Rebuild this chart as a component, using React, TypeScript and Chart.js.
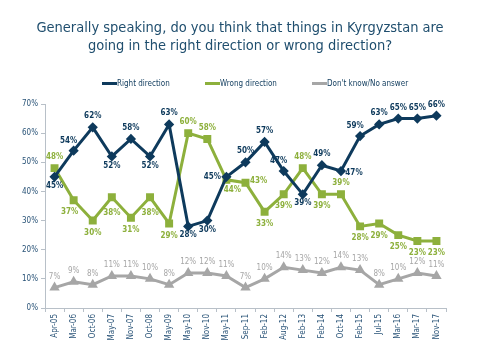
import React, { useEffect, useRef } from "react";
import { Chart, registerables } from "chart.js";

Chart.register(...registerables);

const categories = ["Apr-05","Mar-06","Oct-06","May-07","Nov-07","Oct-08","May-09","May-10","Nov-10","May-11","Sep-11","Feb-12","Aug-12","Feb-13","Feb-14","Oct-14","Feb-15","Jul-15","Mar-16","Mar-17","Nov-17"];
const rightDirection = [45,54,62,52,58,52,63,28,30,45,50,57,47,39,49,47,59,63,65,65,66];
const wrongDirection = [48,37,30,38,31,38,29,60,58,44,43,33,39,48,39,39,28,29,25,23,23];
const dontKnow = [7,9,8,11,11,10,8,12,12,11,7,10,14,13,12,14,13,8,10,12,11];
const yTicks = [0,10,20,30,40,50,60,70];
const titleLines = ["Generally speaking, do you think that things in Kyrgyzstan are", "going in the right direction or wrong direction?"];

// label placement codes: a=above, b=below, bn=near below, bb=far below, l=left, r=right,
// al=above-left, bl=below-left, br=below-right, rb=right-low
const rightPos = ["bn","al","a","bn","a","bn","a","bn","bn","l","a","a","al","bn","a","rb","al","a","a","a","a"];
const wrongPos = ["a","bl","b","bb","b","bb","b","a","a","br","r","b","b","a","b","a","b","b","b","b","b"];
const dkPos = ["a","a","a","a","a","a","a","a","a","a","a","a","a","a","a","a","a","a","a","a","a"];

const OFFSETS: Record<string, [number, number]> = {
  a: [0, -11], b: [0, 12], bn: [0, 9], bb: [0, 16], l: [-14, 0], r: [13, -2],
  al: [-5, -10], bl: [-4, 12], br: [6, 10], rb: [13, 2],
};

const NAVY = "#0e3a5c";
const GREEN = "#8db03c";
const GRAY = "#a6a6a6";
const TITLE = "#1f4e6e";
const FONT = "'DejaVu Sans Condensed', 'DejaVu Sans', sans-serif";

const labelPlugin = {
  id: "pointLabels",
  afterDatasetsDraw(chart: any) {
    const ctx = chart.ctx;
    const positions = [rightPos, wrongPos, dkPos];
    chart.data.datasets.forEach((ds: any, i: number) => {
      const meta = chart.getDatasetMeta(i);
      meta.data.forEach((pt: any, j: number) => {
        const [dx, dy] = OFFSETS[positions[i][j]];
        ctx.save();
        ctx.font = (i === 2 ? "" : "bold ") + "8px " + FONT;
        ctx.fillStyle = ds.borderColor;
        ctx.textAlign = "center";
        ctx.textBaseline = "middle";
        ctx.fillText(ds.data[j] + "%", pt.x + dx, pt.y + dy);
        ctx.restore();
      });
    });
  },
};

const headerPlugin = {
  id: "header",
  afterDraw(chart: any) {
    const ctx = chart.ctx;
    ctx.save();
    ctx.fillStyle = TITLE;
    ctx.font = "14.5px " + FONT;
    ctx.textAlign = "center";
    ctx.textBaseline = "middle";
    ctx.fillText(titleLines[0], 240, 28);
    ctx.fillText(titleLines[1], 240, 46);
    const xs = [102, 205, 312];
    ctx.font = "8px " + FONT;
    ctx.textAlign = "left";
    chart.data.datasets.forEach((ds: any, i: number) => {
      ctx.fillStyle = ds.borderColor;
      ctx.fillRect(xs[i], 82, 15, 3);
      ctx.fillStyle = NAVY;
      ctx.fillText(ds.label, xs[i] + 15, 84);
    });
    ctx.restore();
  },
};

export default function App() {
  const ref = useRef<HTMLCanvasElement>(null);
  useEffect(() => {
    document.body.style.margin = "0";
    const chart = new Chart(ref.current!, {
      type: "line",
      data: {
        labels: categories,
        datasets: [
          { label: "Right direction", data: rightDirection, borderColor: NAVY, backgroundColor: NAVY, borderWidth: 3, pointStyle: "rectRot", pointRadius: 3, tension: 0 },
          { label: "Wrong direction", data: wrongDirection, borderColor: GREEN, backgroundColor: GREEN, borderWidth: 3, pointStyle: "rect", pointRadius: 3.5, tension: 0 },
          { label: "Don't know/No answer", data: dontKnow, borderColor: GRAY, backgroundColor: GRAY, borderWidth: 3, pointStyle: "triangle", pointRadius: 3, tension: 0 },
        ],
      },
      options: {
        animation: false,
        responsive: false,
        layout: { padding: { left: 0, right: 34, top: 104, bottom: 0 } },
        plugins: {
          title: { display: false },
          legend: { display: false },
          tooltip: { enabled: false },
        },
        scales: {
          x: {
            offset: true,
            afterFit: (a: any) => { a.height = 52; },
            grid: { display: true, drawOnChartArea: false, offset: true, color: "#b8c0c8", tickLength: 4 },
            border: { color: "#b8c0c8" },
            ticks: { color: "#2a5478", font: { family: FONT, size: 8 }, maxRotation: 90, minRotation: 90, autoSkip: false, padding: 2 },
          },
          y: {
            min: 0,
            max: 70,
            afterFit: (a: any) => { a.width = 45; },
            afterBuildTicks: (axis: any) => { axis.ticks = yTicks.map((v) => ({ value: v })); },
            grid: { display: true, drawOnChartArea: false, color: "#b8c0c8", tickLength: 4 },
            border: { color: "#b8c0c8" },
            ticks: { color: "#2a5478", font: { family: FONT, size: 8 }, padding: 3, callback: (v: any) => v + "%" },
          },
        },
      },
      plugins: [labelPlugin, headerPlugin],
    });
    return () => chart.destroy();
  }, []);
  return <canvas ref={ref} width={480} height={360} style={{ display: "block" }} />;
}
